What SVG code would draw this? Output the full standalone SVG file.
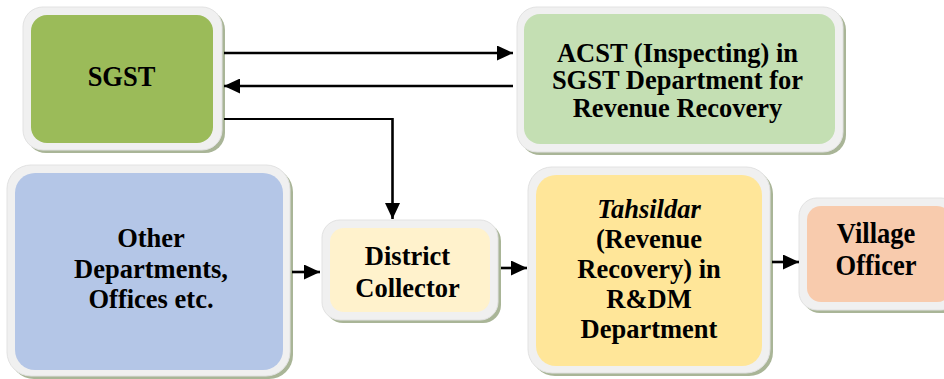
<svg xmlns="http://www.w3.org/2000/svg" width="944" height="379" viewBox="0 0 944 379">
  <style>
    .shadow { fill: #a9b597; }
    .rim { fill: #f0f0f0; stroke: #e2e2e2; stroke-width: 1; }
    .conn { stroke: #000; stroke-width: 2.6; fill: none; }
    .thin { stroke-width: 2; }
  </style>
  <defs>
    <marker id="arrow" markerUnits="userSpaceOnUse" markerWidth="17" markerHeight="15" refX="16" refY="7.5" orient="auto">
      <path d="M0,0 L16,7.5 L0,15 Z" fill="#000"/>
    </marker>
  </defs>
  <rect width="944" height="379" fill="#fff"/>

  <g font-family="Liberation Serif, Times New Roman, serif" font-weight="bold" font-size="26.5" text-anchor="middle" fill="#000">
    <!-- SGST -->
    <g id="sgst">
      <rect class="shadow" x="26" y="10" width="199" height="143" rx="20"/>
      <rect class="rim" x="23" y="7" width="199" height="143" rx="20"/>
      <rect x="31" y="15" width="182" height="128" rx="16" fill="#9bbb59"/>
      <text transform="translate(121.5,86) scale(1,1.12)">SGST</text>
    </g>

    <!-- ACST -->
    <g id="acst">
      <rect class="shadow" x="520" y="10" width="326" height="145" rx="20"/>
      <rect class="rim" x="517" y="7" width="326" height="145" rx="20"/>
      <rect x="524" y="14" width="311" height="130" rx="16" fill="#c4dfb3"/>
      <text x="677.5" y="61.7">ACST (Inspecting) in</text>
      <text x="677.5" y="89.3">SGST Department for</text>
      <text x="677.5" y="116.7">Revenue Recovery</text>
    </g>

    <!-- Other Departments -->
    <g id="other">
      <rect class="shadow" x="10" y="168" width="283" height="211" rx="24"/>
      <rect class="rim" x="7" y="165" width="283" height="211" rx="24"/>
      <rect x="15" y="173" width="268" height="197" rx="20" fill="#b4c6e7"/>
      <text x="151" y="247.3">Other</text>
      <text x="151" y="278">Departments,</text>
      <text x="151" y="308">Offices etc.</text>
    </g>

    <!-- District Collector -->
    <g id="collector">
      <rect class="shadow" x="325" y="223" width="176" height="100" rx="18"/>
      <rect class="rim" x="322" y="220" width="176" height="100" rx="18"/>
      <rect x="330" y="228" width="160" height="84" rx="14" fill="#fff2cc"/>
      <text x="407.5" y="265">District</text>
      <text x="407.5" y="296.5">Collector</text>
    </g>

    <!-- Tahsildar -->
    <g id="tahsildar">
      <rect class="shadow" x="531" y="170" width="242" height="206" rx="24"/>
      <rect class="rim" x="528" y="167" width="242" height="206" rx="24"/>
      <rect x="536" y="175" width="226" height="191" rx="20" fill="#ffe699"/>
      <text x="649" y="218" font-style="italic">Tahsildar</text>
      <text x="649" y="248">(Revenue</text>
      <text x="649" y="278">Recovery) in</text>
      <text x="649" y="308">R&amp;DM</text>
      <text x="649" y="338">Department</text>
    </g>

    <!-- Village Officer -->
    <g id="village">
      <rect class="shadow" x="802" y="201" width="160" height="112" rx="18"/>
      <rect class="rim" x="799" y="198" width="160" height="112" rx="18"/>
      <rect x="807" y="206" width="144" height="96" rx="14" fill="#f8cbad"/>
      <text transform="translate(876,243.3) scale(1,1.08)">Village</text>
      <text transform="translate(876,275) scale(1,1.08)">Officer</text>
    </g>
  </g>

  <!-- Connectors -->
  <g id="connectors">
    <line class="conn" x1="224" y1="53" x2="513" y2="53" marker-end="url(#arrow)"/>
    <line class="conn" x1="513" y1="86" x2="224" y2="86" marker-end="url(#arrow)"/>
    <polyline class="conn thin" points="224,119 392,119"/>
    <line class="conn" x1="392.5" y1="118" x2="392.5" y2="219" marker-end="url(#arrow)"/>
    <line class="conn" x1="292" y1="272" x2="320" y2="272" marker-end="url(#arrow)"/>
    <line class="conn" x1="501" y1="268" x2="527" y2="268" marker-end="url(#arrow)"/>
    <line class="conn" x1="772" y1="262" x2="799" y2="262" marker-end="url(#arrow)"/>
  </g>
</svg>
